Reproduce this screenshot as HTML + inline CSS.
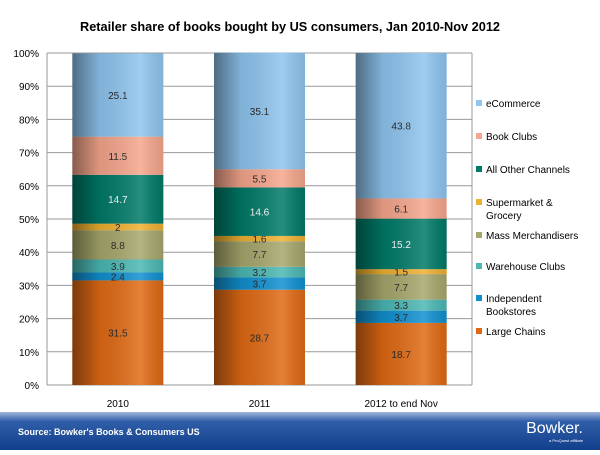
<!DOCTYPE html>
<html><head><meta charset="utf-8"><style>
body{margin:0;width:600px;height:450px;overflow:hidden;background:#fff;font-family:"Liberation Sans",sans-serif}
</style></head><body>
<svg id="c" width="600" height="450" xmlns="http://www.w3.org/2000/svg">
<defs>
<linearGradient id="shade" x1="0" x2="1" y1="0" y2="0">
<stop offset="0" stop-color="#000" stop-opacity="0.45"/>
<stop offset="0.3" stop-color="#000" stop-opacity="0.1"/>
<stop offset="0.75" stop-color="#fff" stop-opacity="0.15"/>
<stop offset="1" stop-color="#000" stop-opacity="0.1"/>
</linearGradient>
<linearGradient id="foot" x1="0" x2="0" y1="0" y2="1">
<stop offset="0" stop-color="#9fb6dc"/><stop offset="0.25" stop-color="#2f5ea8"/><stop offset="1" stop-color="#123f8c"/>
</linearGradient>
</defs>
<text x="290" y="31" text-anchor="middle" font-size="13" font-weight="bold" fill="#000" textLength="420" lengthAdjust="spacingAndGlyphs">Retailer share of books bought by US consumers, Jan 2010-Nov 2012</text>
<g id="grid"></g><g id="bars"></g><g id="legend"></g>
<rect x="0" y="412" width="600" height="38" fill="url(#foot)"/>
<text x="18" y="435" font-size="9" font-weight="bold" fill="#fff">Source: Bowker's Books &amp; Consumers US</text>
<text x="583" y="433" text-anchor="end" font-size="16" fill="#fff">Bowker.</text>
<text x="583" y="442" text-anchor="end" font-size="4" fill="#fff">a ProQuest affiliate</text>
</svg>
<script>
const categories=["2010","2011","2012 to end Nov"];
const seriesNames=["Large Chains","Independent Bookstores","Warehouse Clubs","Mass Merchandisers","Supermarket & Grocery","All Other Channels","Book Clubs","eCommerce"];
const seriesColors=["#e06a14","#1190d0","#4bb8b4","#a6a76c","#f0b030","#007a68","#f6a68c","#8fc5ef"];
const largeChains=[31.5,28.7,18.7];
const independent=[2.4,3.7,3.7];
const warehouse=[3.9,3.2,3.3];
const massMerch=[8.8,7.7,7.7];
const supermarket=[2,1.6,1.5];
const allOther=[14.7,14.6,15.2];
const bookClubs=[11.5,5.5,6.1];
const eCommerce=[25.1,35.1,43.8];
const yTicks=[0,10,20,30,40,50,60,70,80,90,100];
const series=[largeChains,independent,warehouse,massMerch,supermarket,allOther,bookClubs,eCommerce];
const NS="http://www.w3.org/2000/svg";
const L=47,R=472,T=53,B=385,bw=91;
const y=v=>B-(v/100)*(B-T);
const band=(R-L)/categories.length;
const xc=i=>L+band*(i+0.5);
function mk(t,a,p){const e=document.createElementNS(NS,t);for(const k in a)e.setAttribute(k,a[k]);p.appendChild(e);return e;}
const g=document.getElementById('grid');
yTicks.forEach(t=>{
 const ln=mk('line',{x1:L,x2:R,y1:y(t),y2:y(t),stroke:'#999','stroke-width':1},g);
 
 
 const tx=mk('text',{x:L-8,y:y(t)+4,'text-anchor':'end','font-size':10,fill:'#000'},g);
 tx.textContent=t+'%';
 
 
});
mk('line',{x1:L,x2:L,y1:T,y2:B,stroke:'#999'},g);
mk('line',{x1:R,x2:R,y1:T,y2:B,stroke:'#999'},g);
const bg=document.getElementById('bars');
categories.forEach((c,i)=>{
 let cum=0;
 series.forEach((s,j)=>{
  const v=s[i];const y0=y(cum),y1=y(cum+v);
  const r=mk('rect',{x:xc(i)-bw/2,y:y1,width:bw,height:y0-y1,fill:seriesColors[j]},bg);
  
  
  const tx=mk('text',{x:xc(i),y:(y0+y1)/2+4,'text-anchor':'middle','font-size':10,fill:j==5?'#fff':'#222'},bg);
  tx.textContent=v;
  
  
  cum+=v;
 });
 const sh=mk('rect',{x:xc(i)-bw/2,y:y(cum),width:bw,height:B-y(cum),fill:'url(#shade)'},bg);
 
 
 const xl=mk('text',{x:xc(i),y:407,'text-anchor':'middle','font-size':10,fill:'#000'},bg);
 xl.textContent=c;
 
 
});
const lg=document.getElementById('legend');
const legY=[105,138,171,204,237,268,300,333];
const order=[7,6,5,4,3,2,1,0];
order.forEach((j,k)=>{
 const yy=legY[k];
 const m=mk('rect',{x:476,y:yy-5,width:6,height:6,fill:seriesColors[j]},lg);
 
 
 const name=seriesNames[j];
 const parts=name=="Supermarket & Grocery"?["Supermarket &","Grocery"]:name=="Independent Bookstores"?["Independent","Bookstores"]:[name];
 const tx=mk('text',{x:486,y:yy+2,'font-size':10,fill:'#000'},lg);
 parts.forEach((p,n)=>{const ts=mk('tspan',{x:486,dy:n?13:0},tx);ts.textContent=p;});
 
 
});
</script>
</body></html>
